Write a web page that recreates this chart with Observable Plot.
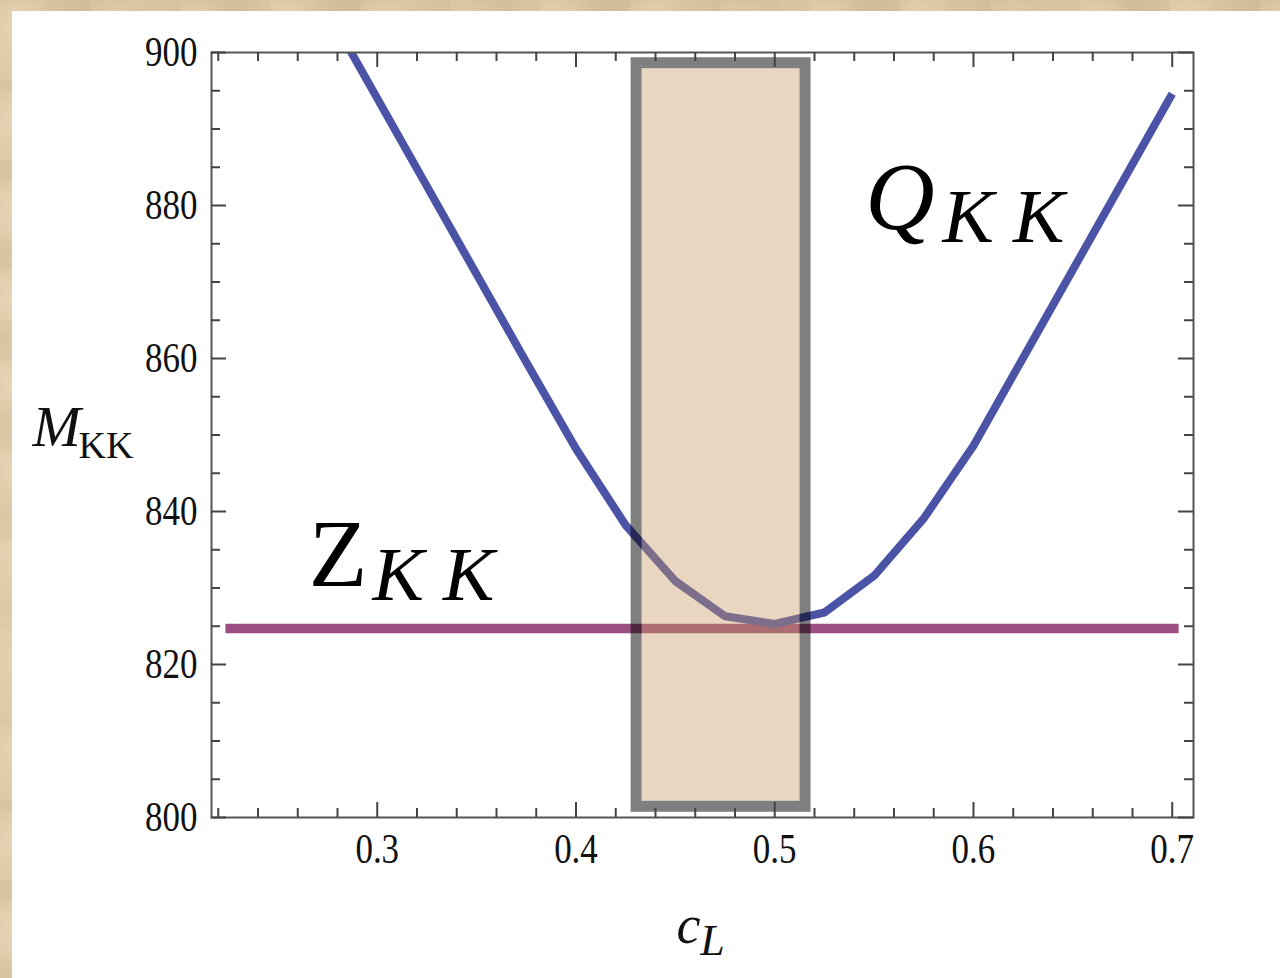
<!DOCTYPE html>
<html>
<head>
<meta charset="utf-8">
<script src="https://cdn.jsdelivr.net/npm/d3@7"></script>
<script src="https://cdn.jsdelivr.net/npm/@observablehq/plot@0.6"></script>
<style>
html, body { margin: 0; padding: 0; }
body {
  width: 1280px; height: 978px; overflow: hidden; position: relative;
  background-color: #d9c5a2;
  background-image:
    radial-gradient(circle at 20% 30%, rgba(240,225,195,0.55) 0, rgba(240,225,195,0) 40px),
    radial-gradient(circle at 70% 10%, rgba(200,178,140,0.5) 0, rgba(200,178,140,0) 60px),
    radial-gradient(circle at 40% 80%, rgba(235,218,188,0.5) 0, rgba(235,218,188,0) 50px);
  background-size: 90px 90px, 130px 110px, 70px 80px;
}
#panel { position: absolute; left: 12px; top: 11px; width: 1268px; height: 967px; background: #fff; }
</style>
</head>
<body>
<div id="panel"></div>
<script>
// ---- data ----
const cValues = [0.275, 0.3, 0.325, 0.35, 0.375, 0.4, 0.425, 0.45, 0.475, 0.5, 0.525, 0.55, 0.575, 0.6, 0.625, 0.65, 0.675, 0.7];
const qkkMass = [905.5, 894.0, 882.5, 871.0, 859.5, 848.2, 838.2, 830.9, 826.3, 825.3, 826.8, 831.6, 839.1, 848.6, 860.1, 871.6, 883.1, 894.6];
const zkkC = [0.2236, 0.7032];
const zkkMass = [824.7, 824.7];
const boxC = [0.4305, 0.5155];
const boxMass = [801.4, 898.6];
const xMajor = [0.3, 0.4, 0.5, 0.6, 0.7];
const xMinor = [0.22, 0.24, 0.26, 0.28, 0.32, 0.34, 0.36, 0.38, 0.42, 0.44, 0.46, 0.48, 0.52, 0.54, 0.56, 0.58, 0.62, 0.64, 0.66, 0.68];
const yMajor = [800, 820, 840, 860, 880, 900];
const yMinor = [805, 810, 815, 825, 830, 835, 845, 850, 855, 865, 870, 875, 885, 890, 895];
const uprightLabels = [
  {text: "Z", c: 0.2655, m: 830.3, size: 96}
];
const italicLabels = [
  {text: "K K", c: 0.2976, m: 828.4, size: 77},
  {text: "Q", c: 0.5455, m: 876.9, size: 96},
  {text: "K K", c: 0.5844, m: 875.2, size: 77}
];

// ---- tables for the library ----
const qkk = cValues.map((c, i) => ({c, m: qkkMass[i]}));
const zkk = zkkC.map((c, i) => ({c, m: zkkMass[i]}));
const box = [{c1: boxC[0], c2: boxC[1], m1: boxMass[0], m2: boxMass[1]}];

const W = 1268, H = 967, mL = 199, mT = 41, mR = 87, mB = 161;
const FW = W - mL - mR, FH = H - mT - mB;
const tickColor = "#444";
const font = "'Liberation Serif', 'Times New Roman', serif";

const chart = Plot.plot({
  width: W, height: H,
  marginLeft: mL, marginTop: mT, marginRight: mR, marginBottom: mB,
  style: {background: "white", fontFamily: font, color: "#111"},
  x: {domain: [0.2166, 0.7107]},
  y: {domain: [800, 900]},
  marks: [
    Plot.line(zkk, {x: "c", y: "m", stroke: "#9a4f80", strokeWidth: 9.5, strokeLinecap: "butt"}),
    Plot.line(qkk, {x: "c", y: "m", stroke: "#4b53a7", strokeWidth: 8, strokeLinecap: "butt", strokeLinejoin: "round", clip: true}),
    Plot.rect(box, {x1: "c1", x2: "c2", y1: "m1", y2: "m2", inset: 5.5, fill: "rgb(200,152,97)", fillOpacity: 0.4}),
    Plot.rect(box, {x1: "c1", x2: "c2", y1: "m1", y2: "m2", fill: "none", stroke: "black", strokeOpacity: 0.5, strokeWidth: 11}),
    Plot.frame({stroke: "#555", strokeWidth: 2}),
    // inward ticks on all four sides
    Plot.ruleX(xMajor, {x: d => d, insetTop: FH - 15, stroke: tickColor, strokeWidth: 2}),
    Plot.ruleX(xMinor, {x: d => d, insetTop: FH - 9, stroke: tickColor, strokeWidth: 2}),
    Plot.ruleX(xMajor, {x: d => d, insetBottom: FH - 15, stroke: tickColor, strokeWidth: 2}),
    Plot.ruleX(xMinor, {x: d => d, insetBottom: FH - 9, stroke: tickColor, strokeWidth: 2}),
    Plot.ruleY(yMajor, {y: d => d, insetRight: FW - 15, stroke: tickColor, strokeWidth: 2}),
    Plot.ruleY(yMinor, {y: d => d, insetRight: FW - 9, stroke: tickColor, strokeWidth: 2}),
    Plot.ruleY(yMajor, {y: d => d, insetLeft: FW - 15, stroke: tickColor, strokeWidth: 2}),
    Plot.ruleY(yMinor, {y: d => d, insetLeft: FW - 9, stroke: tickColor, strokeWidth: 2}),
    // tick labels
    Plot.axisX(xMajor, {tickSize: 0, tickPadding: 18, tickFormat: d => d.toFixed(1), fontSize: 35, fontFamily: font, fill: "#111", label: null}),
    Plot.axisY(yMajor, {tickSize: 0, tickPadding: 14, tickFormat: d => String(d), fontSize: 35, fontFamily: font, fill: "#111", label: null}),
    // axis titles
    Plot.text(["M"], {text: d => d, frameAnchor: "left", dx: -179, dy: -7.5, textAnchor: "start", lineAnchor: "middle", fontSize: 58, fontStyle: "italic", fontFamily: font, fill: "#111", ariaLabel: "title-sq"}),
    Plot.text(["KK"], {text: d => d, frameAnchor: "left", dx: -133, dy: 11, textAnchor: "start", lineAnchor: "middle", fontSize: 38, fontFamily: font, fill: "#111", ariaLabel: "title-sq2"}),
    Plot.text(["c"], {text: d => d, frameAnchor: "bottom", dx: -14, dy: 108, textAnchor: "middle", lineAnchor: "middle", fontSize: 54, fontStyle: "italic", fontFamily: font, fill: "#111", ariaLabel: "title-sq"}),
    Plot.text(["L"], {text: d => d, frameAnchor: "bottom", dx: 10, dy: 123, textAnchor: "middle", lineAnchor: "middle", fontSize: 44, fontStyle: "italic", fontFamily: font, fill: "#111", ariaLabel: "title-sq"}),
    // annotations
    Plot.text(uprightLabels, {x: "c", y: "m", text: "text", fontSize: "size", textAnchor: "start", lineAnchor: "bottom", fontFamily: font, fill: "black"}),
    Plot.text(italicLabels, {x: "c", y: "m", text: "text", fontSize: "size", fontStyle: "italic", textAnchor: "start", lineAnchor: "bottom", fontFamily: font, fill: "black"})
  ]
});

document.getElementById("panel").appendChild(chart);

// Vertically stretch the axis text, as in the reference
function stretch(selection, k) {
  selection.each(function () {
    const b = this.getBBox();
    const cx = b.x + b.width / 2, cy = b.y + b.height / 2;
    const t = this.getAttribute("transform") || "";
    this.setAttribute("transform", `${t} translate(${cx},${cy}) scale(1,${k}) translate(${-cx},${-cy})`);
  });
}
const svg = d3.select(chart);
stretch(svg.selectAll('g[aria-label="x-axis tick label"] text, g[aria-label="y-axis tick label"] text'), 1.2);
stretch(svg.selectAll('g[aria-label="title-sq"] text'), 1.2);
stretch(svg.selectAll('g[aria-label="title-sq2"] text'), 1.35);
</script>
</body>
</html>
